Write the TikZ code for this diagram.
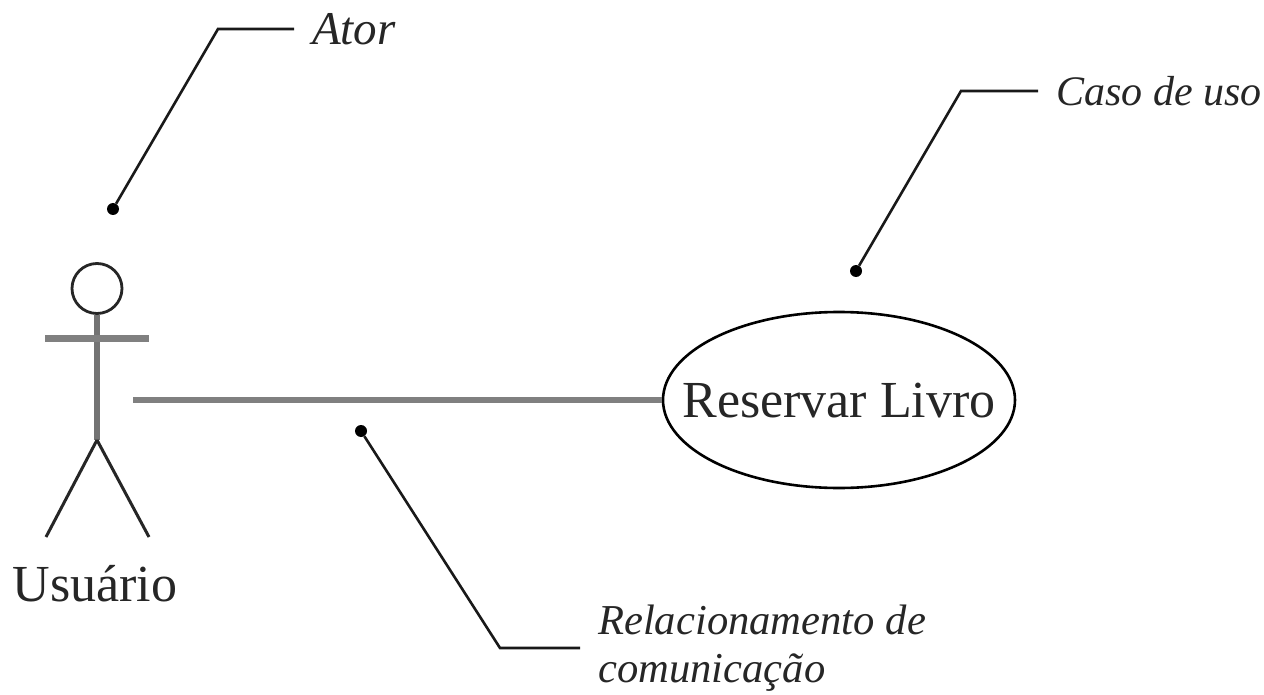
\documentclass[tikz,border=0pt]{standalone}
\usepackage{fontspec}
\usetikzlibrary{shapes.geometric}
\setmainfont{Liberation Serif}
\tikzset{
  leader/.style={draw=black!90,line width=2.6pt},
  stick/.style={draw=black!55,line width=6pt},
  thick bar/.style={draw=black!50,line width=6.5pt},
  dot/.style={circle,fill=black,inner sep=0pt,minimum size=12pt},
  note/.style={inner sep=0pt,font=\fontsize{42.6}{50}\selectfont\itshape,text=black!85,anchor=west,align=left},
  label/.style={inner sep=0pt,font=\fontsize{52}{60}\selectfont,text=black!85}
}
\begin{document}
\begin{tikzpicture}[x=1pt,y=-1pt,line cap=butt]
\useasboundingbox[fill=white] (0,0) rectangle (1264,695);
% actor
\node[circle,draw=black!85,line width=2.8pt,minimum size=50pt,inner sep=0pt] (head) at (97,288.5) {};
\coordinate (hip) at (97,440);
\coordinate (armL) at (45,338.5);
\coordinate (armR) at (149,338.5);
\coordinate (footL) at (46,537);
\coordinate (footR) at (149,537);
\draw[stick] (head.south) -- (hip);
\draw[thick bar] (armL) -- (armR);
\draw[draw=black!85,line width=3pt] (hip) -- (footL) (hip) -- (footR);
\node[label] (usuario) at (95,584) {Usuário};
% use case
\node[ellipse,draw=black,line width=2.6pt,minimum width=352pt,minimum height=176pt,inner sep=0pt] (uc) at (839,400) {};
\node[label] (uctext) at (839,401) {Reservar Livro};
% association
\coordinate (assocStart) at (133,400);
\draw[thick bar] (assocStart) -- (uc.west);
% notes
\node[dot] (d1) at (113,209) {};
\coordinate (b1) at (218,29);
\node[note,font=\fontsize{47}{50}\selectfont\itshape] (n1) at (312,29) {Ator};
\draw[leader] (d1) -- (b1) -- (294,29);
\node[dot] (d2) at (856,271) {};
\coordinate (b2) at (961,91);
\node[note,font=\fontsize{42}{50}\selectfont\itshape] (n2) at (1056,91) {Caso de uso};
\draw[leader] (d2) -- (b2) -- (1038,91);
\node[dot] (d3) at (361,431) {};
\coordinate (b3) at (500,648);
\node[note] (n3) at (598,620) {Relacionamento de};
\node[note] (n4) at (598,673) {comunicação};
\draw[leader] (d3) -- (b3) -- (580,648);
\end{tikzpicture}
\end{document}
